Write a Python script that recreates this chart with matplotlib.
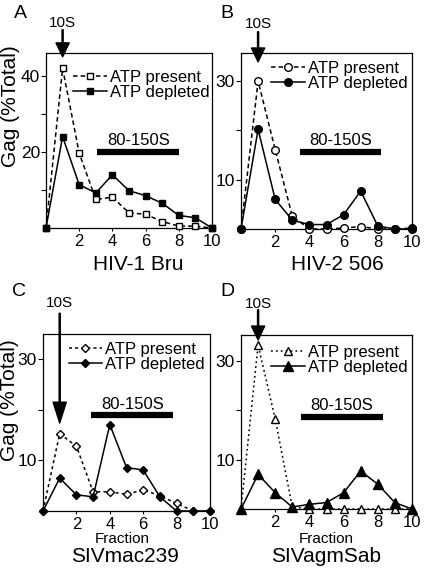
import numpy as np
import matplotlib.pyplot as plt

plt.rcParams['font.family'] = ['Liberation Sans', 'DejaVu Sans']

W, H = 426, 572
fractions = np.arange(0, 11)

# panel A: HIV-1 Bru
a_present = [0, 42, 19.7, 7.5, 8.1, 4.0, 3.6, 1.7, 0.5, 0.5, 0]
a_depleted = [0, 24, 11.4, 9.2, 14, 9.8, 8.5, 6.5, 3.3, 2.7, 0]
# panel B: HIV-2 506
b_present = [0, 30, 16.1, 2.6, 0, 0, 0.2, 0.5, 0, 0, 0.2]
b_depleted = [0, 20.2, 6.0, 1.8, 0.9, 0.9, 2.9, 7.7, 0.6, 0, 0]
# panel C: SIVmac239
c_present = [0, 15.3, 12.8, 3.8, 3.8, 3.3, 4.2, 3.0, 1.5, 0, 0]
c_depleted = [0, 6.5, 3.2, 2.8, 17.1, 8.6, 8.1, 2.8, 0, 0, 0]
# panel D: SIVagmSab
d_present = [0, 33.2, 18.2, 0.4, 0, 0, 0, 0, 0, 0, 0]
d_depleted = [0, 7.0, 3.3, 0.4, 0.95, 1.3, 3.3, 7.7, 5.0, 1.3, 0]


def px(x, y):
    # pixel position -> figure fraction
    return x / W, 1 - y / H


fig = plt.figure(figsize=(W / 100, H / 100), dpi=100)

panels = [
    dict(box=(46, 53, 212, 228), letter='A', letter_xy=(20, 14),
         name='HIV-1 Bru', name_xy=(138, 264),
         present=a_present, depleted=a_depleted, marker='s', ms=(5, 5),
         ls=(0, (3, 2)), ylim=46, yt=[10, 20, 30, 40], ytl=['', '20', '', '40'],
         arrow=(52.1, 45.0, 10), text_y=54.0, bar=(3.1, 8.0, 20.0),
         leg=(0.985, 0.905), fraction=None),
    dict(box=(241, 53, 412, 229), letter='B', letter_xy=(226.5, 13.5),
         name='HIV-2 506', name_xy=(337.5, 264),
         present=b_present, depleted=b_depleted, marker='o', ms=(5.5, 5.5),
         ls=(0, (3, 2)), ylim=35.7, yt=[10, 20, 30], ytl=['10', '', '30'],
         arrow=(40.0, 33.9, 10), text_y=41.6, bar=(3.45, 8.2, 15.7),
         leg=(0.975, 0.955), fraction=None),
    dict(box=(43, 334, 210, 511), letter='C', letter_xy=(19, 291),
         name='SIVmac239', name_xy=(124.5, 557),
         present=c_present, depleted=c_depleted, marker='D', ms=(4.5, 4.5),
         ls=(0, (2, 2)), ylim=35, yt=[10, 20, 30], ytl=['10', '', '30'],
         arrow=(39.1, 17.4, 15), text_y=41.2, bar=(2.9, 7.8, 18.9),
         leg=(0.97, 0.955), fraction=(122, 539)),
    dict(box=(241, 335, 412, 509), letter='D', letter_xy=(227, 291),
         name='SIVagmSab', name_xy=(326, 557),
         present=d_present, depleted=d_depleted, marker='^', ms=(5.5, 7),
         ls=(0, (1.2, 2)), ylim=35.2, yt=[10, 20, 30], ytl=['10', '', '30'],
         arrow=(40.3, 34.2, 10), text_y=41.5, bar=(3.5, 8.3, 18.7),
         leg=(0.975, 0.945), fraction=(326, 539)),
]

for p in panels:
    x0p, y0p, x1p, y1p = p['box']
    ax = fig.add_axes([x0p / W, 1 - y1p / H, (x1p - x0p) / W, (y1p - y0p) / H])
    ax.plot(fractions, p['present'], color='black', lw=1.1, linestyle=p['ls'],
            marker=p['marker'], ms=p['ms'][0], mfc='white', mec='black', mew=1.0,
            clip_on=False, zorder=3, label='ATP present')
    ax.plot(fractions, p['depleted'], color='black', lw=1.1, linestyle='-',
            marker=p['marker'], ms=p['ms'][1], mfc='black', mec='black',
            clip_on=False, zorder=4, label='ATP depleted')

    ax.set_xlim(0, 10)
    ax.set_ylim(0, p['ylim'])
    ax.set_xticks([2, 4, 6, 8, 10])
    ax.set_yticks(p['yt'])
    ax.set_yticklabels(p['ytl'])
    ax.tick_params(axis='x', length=2, pad=2, labelsize=12, direction='out')
    ax.tick_params(axis='y', length=3.5, pad=0.8, labelsize=12.5, direction='out')
    for s in ax.spines.values():
        s.set_linewidth(0.9)

    # 80-150S bar
    bx0, bx1, by = p['bar']
    ax.plot([bx0, bx1], [by, by], color='black', lw=4.5, solid_capstyle='butt')
    ax.text((bx0 + bx1) / 2, by + p['ylim'] * 0.02, '80-150S', ha='center',
            va='bottom', fontsize=12)

    # 10S arrow
    tail, tip, hl = p['arrow']
    ax.annotate('', xy=(1, tip), xytext=(1, tail), annotation_clip=False,
                arrowprops=dict(facecolor='black', edgecolor='black', width=0.8,
                                headwidth=9.5, headlength=hl, shrink=0))
    ax.text(1, p['text_y'], '10S', ha='center', va='center', fontsize=11,
            clip_on=False)

    ax.legend(loc='upper right', bbox_to_anchor=p['leg'], frameon=False,
              fontsize=12, handlelength=2.0, handletextpad=0.2,
              labelspacing=0.0, borderaxespad=0, borderpad=0, numpoints=1)

    fx, fy = px(*p['name_xy'])
    fig.text(fx, fy, p['name'], ha='center', va='center', fontsize=15)
    if p['fraction']:
        fx, fy = px(*p['fraction'])
        fig.text(fx, fy, 'Fraction', ha='center', va='center', fontsize=11)

    fx, fy = px(*p['letter_xy'])
    fig.text(fx, fy, p['letter'], fontsize=14, ha='center', va='center')

for xc, yc in ((10.5, 106.5), (9.5, 400)):
    fx, fy = px(xc, yc)
    fig.text(fx, fy, 'Gag (%Total)', rotation=90, ha='center', va='center',
             fontsize=15)

fig.savefig('out.png', dpi=100)
